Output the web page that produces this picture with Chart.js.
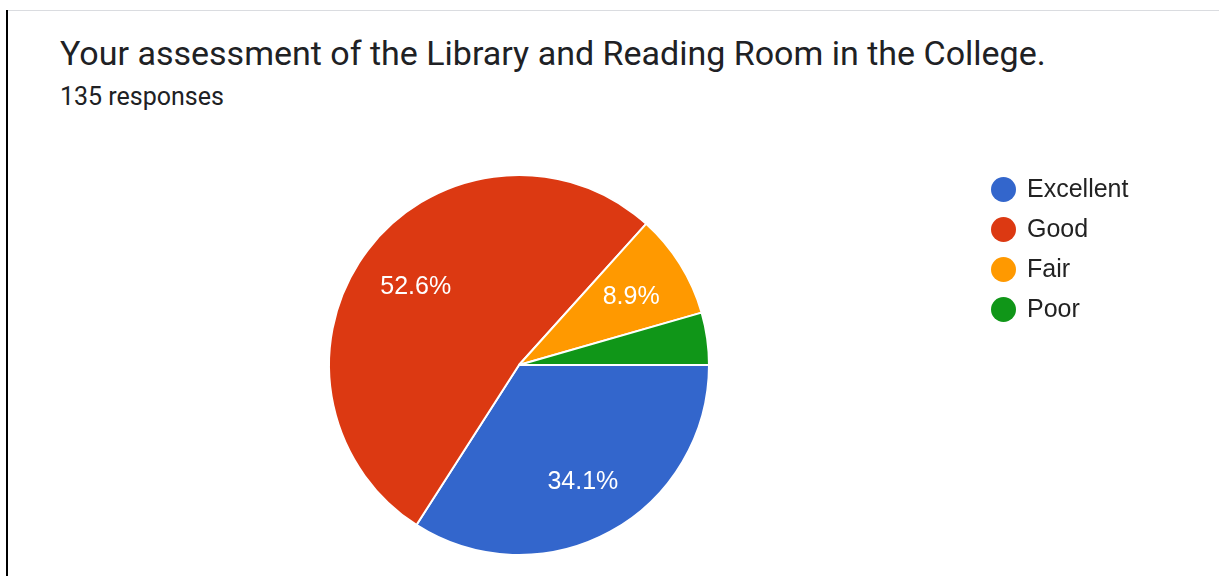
<!DOCTYPE html>
<html>
<head>
<meta charset="utf-8">
<script src="https://cdn.jsdelivr.net/npm/chart.js@4"></script>
<style>
  html, body { margin: 0; padding: 0; background: #fff; }
  body { width: 1220px; height: 576px; position: relative; overflow: hidden; }
  #topline { position: absolute; left: 8px; top: 10px; width: 1211px; height: 1px; background: #dadce0; }
  #leftline { position: absolute; left: 6px; top: 10px; width: 2px; height: 566px; background: #000; }
  #title { position: absolute; left: 60px; top: 33px; font: 34px Roboto, sans-serif; color: #202124; white-space: nowrap; }
  #sub { position: absolute; left: 60px; top: 82px; font: 25px Roboto, sans-serif; color: #202124; white-space: nowrap; }
  #myChart { position: absolute; left: 0; top: 0; }
</style>
</head>
<body>
<div id="topline"></div>
<div id="leftline"></div>
<div id="title">Your assessment of the Library and Reading Room in the College.</div>
<div id="sub">135 responses</div>
<canvas id="myChart" width="1220" height="576"></canvas>
<script>
const labels = ['Excellent', 'Good', 'Fair', 'Poor'];
const responses = [46, 71, 12, 6];
const colors = ['#3366cc', '#dc3912', '#ff9900', '#109618'];

// percent labels inside the slices, google forms style (hidden under 5%)
const sliceLabels = {
    id: 'sliceLabels',
    afterDatasetsDraw(chart) {
        const ctx = chart.ctx;
        const ds = chart.data.datasets[0].data;
        const total = ds.reduce((a, b) => a + b, 0);
        chart.getDatasetMeta(0).data.forEach((arc, i) => {
            const pct = ds[i] / total * 100;
            if (pct < 5) return;
            const mid = (arc.startAngle + arc.endAngle) / 2;
            const r = arc.outerRadius * 0.69;
            ctx.save();
            ctx.fillStyle = '#fff';
            ctx.font = '25px "Liberation Sans", Arial, sans-serif';
            ctx.textAlign = 'center';
            ctx.textBaseline = 'middle';
            ctx.fillText(pct.toFixed(1) + '%', arc.x + Math.cos(mid) * r + 1, arc.y + Math.sin(mid) * r + 2);
            ctx.restore();
        });
    }
};

// legend on the right
const sideLegend = {
    id: 'sideLegend',
    afterDraw(chart) {
        const ctx = chart.ctx;
        ctx.save();
        ctx.font = '25px "Liberation Sans", Arial, sans-serif';
        ctx.textBaseline = 'middle';
        chart.data.labels.forEach((lab, i) => {
            const y = 189.5 + i * 40;
            ctx.fillStyle = colors[i];
            ctx.beginPath();
            ctx.arc(1003.5, y, 12.5, 0, Math.PI * 2);
            ctx.fill();
            ctx.fillStyle = '#222';
            ctx.fillText(lab, 1027, y + 1);
        });
        ctx.restore();
    }
};

const data = {
    labels: labels,
    datasets: [{
        data: responses,
        backgroundColor: colors,
        borderColor: '#fff',
        borderWidth: 2,
    }]
};

const config = {
    type: 'pie',
    data: data,
    options: {
        responsive: false,
        animation: false,
        rotation: 90,
        layout: { padding: { left: 328, top: 174, right: 510, bottom: 20 } },
        plugins: {
            legend: { display: false },
            tooltip: { enabled: false }
        }
    },
    plugins: [sliceLabels, sideLegend]
};

const myChart = new Chart(
    document.getElementById('myChart'),
    config
);
</script>
</body>
</html>
